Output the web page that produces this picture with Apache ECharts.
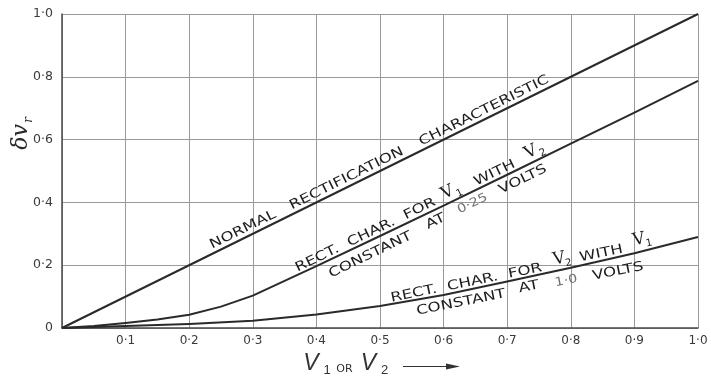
<!DOCTYPE html>
<html>
<head>
<meta charset="utf-8">
<style>
  html, body { margin: 0; padding: 0; background: #ffffff; }
  #chart { width: 711px; height: 377px; }
</style>
<script src="https://cdn.jsdelivr.net/npm/echarts@6/dist/echarts.min.js"></script>
</head>
<body>
<div id="chart"></div>
<script>
// ---- data -------------------------------------------------------------
// Normal rectification characteristic (straight line)
const normalX = [0, 1.0];
const normalY = [0, 1.0];

// Rect. char. for V1 with V2 constant at 0.25 volts
const curveAX = [0, 0.05, 0.1, 0.15, 0.2, 0.25, 0.3, 0.35, 0.4, 0.5, 0.6, 0.7, 0.8, 0.9, 1.0];
const curveAY = [0, 0.006, 0.016, 0.027, 0.042, 0.068, 0.103, 0.150, 0.197, 0.293, 0.390, 0.488, 0.587, 0.686, 0.787];

// Rect. char. for V2 with V1 constant at 1.0 volts
const curveBX = [0, 0.1, 0.2, 0.3, 0.4, 0.5, 0.6, 0.7, 0.8, 0.9, 1.0];
const curveBY = [0, 0.006, 0.013, 0.023, 0.043, 0.070, 0.105, 0.148, 0.192, 0.238, 0.290];

// Tick labels (raised decimal point)
const xTickLabels = ['', '0·1', '0·2', '0·3', '0·4', '0·5', '0·6', '0·7', '0·8', '0·9', '1·0'];
const yTickLabels = ['0', '', '0·2', '', '0·4', '', '0·6', '', '0·8', '', '1·0'];

// Curve annotations: token text, position along the curve (x value), kind, offset from the curve
const normalLabel = [
  { t: 'NORMAL', at: 0.290, k: 'w', off: -8 },
  { t: 'RECTIFICATION', at: 0.453, k: 'w', off: -8 },
  { t: 'CHARACTERISTIC', at: 0.669, k: 'w', off: -8 }
];
const curveALabelTop = [
  { t: 'RECT.  CHAR.  FOR', at: 0.482, k: 'w', off: -7 },
  { t: 'V', at: 0.613, k: 'v', off: -10 },
  { t: '1', at: 0.628, k: 's', off: -4 },
  { t: 'WITH', at: 0.685, k: 'w', off: -7 },
  { t: 'V', at: 0.744, k: 'v', off: -10 },
  { t: '2', at: 0.759, k: 's', off: -4 }
];
const curveALabelBottom = [
  { t: 'CONSTANT', at: 0.476, k: 'w', off: 13 },
  { t: 'AT', at: 0.580, k: 'w', off: 11 },
  { t: '0·25', at: 0.638, k: 'n', off: 11 },
  { t: 'VOLTS', at: 0.717, k: 'w', off: 11 }
];
const curveBLabelTop = [
  { t: 'RECT.  CHAR.  FOR', at: 0.638, k: 'w', off: -7 },
  { t: 'V', at: 0.785, k: 'v', off: -11 },
  { t: '2', at: 0.798, k: 's', off: -5 },
  { t: 'WITH', at: 0.850, k: 'w', off: -7 },
  { t: 'V', at: 0.911, k: 'v', off: -12 },
  { t: '1', at: 0.925, k: 's', off: -6 }
];
const curveBLabelBottom = [
  { t: 'CONSTANT', at: 0.624, k: 'w', off: 11 },
  { t: 'AT', at: 0.731, k: 'w', off: 10 },
  { t: '1·0', at: 0.789, k: 'n', off: 12 },
  { t: 'VOLTS', at: 0.870, k: 'w', off: 14 }
];

// ---- styles -----------------------------------------------------------
const INK = '#1d1d1d';
const LINE = '#2a2a2a';
const TOKEN = {
  w: { fontFamily: 'DejaVu Sans', fontSize: 13, fill: INK, scaleX: 1.28 },
  v: { fontFamily: 'DejaVu Serif', fontSize: 17, fill: INK, scaleX: 1 },
  s: { fontFamily: 'DejaVu Sans', fontSize: 10, fill: INK, scaleX: 1 },
  n: { fontFamily: 'DejaVu Sans', fontSize: 12, fill: '#707070', scaleX: 1.2 }
};

const pairs = (xs, ys) => xs.map((x, i) => [x, ys[i]]);

const chart = echarts.init(document.getElementById('chart'), null, { renderer: 'canvas' });

const lineSeries = (name, xs, ys) => ({
  name,
  type: 'line',
  data: pairs(xs, ys),
  showSymbol: false,
  smooth: false,
  lineStyle: { color: LINE, width: 2, join: 'round' },
  z: 5,
  silent: true
});

chart.setOption({
  animation: false,
  backgroundColor: '#ffffff',
  grid: { left: 62, right: 13, top: 14, bottom: 49, containLabel: false, outerBoundsMode: 'none' },
  xAxis: {
    type: 'value',
    min: 0,
    max: 1,
    interval: 0.1,
    axisLine: { show: true, lineStyle: { color: '#4a4a4a', width: 1.5 } },
    axisTick: { show: false },
    axisLabel: {
      color: '#3a3a3a',
      fontFamily: 'DejaVu Sans',
      fontSize: 12,
      margin: 7,
      showMinLabel: true,
      showMaxLabel: true,
      formatter: v => xTickLabels[Math.round(v * 10)] || ''
    },
    splitLine: { show: true, lineStyle: { color: '#9a9a9a', width: 1 } }
  },
  yAxis: {
    type: 'value',
    min: 0,
    max: 1,
    interval: 0.2,
    axisLine: { show: true, lineStyle: { color: '#4a4a4a', width: 1.5 } },
    axisTick: { show: false },
    axisLabel: {
      color: '#3a3a3a',
      fontFamily: 'DejaVu Sans',
      fontSize: 12.5,
      margin: 9,
      showMinLabel: true,
      showMaxLabel: true,
      formatter: v => yTickLabels[Math.round(v * 10)] || ''
    },
    splitLine: { show: true, lineStyle: { color: '#9a9a9a', width: 1 } }
  },
  series: [
    lineSeries('normal', normalX, normalY),
    lineSeries('curveA', curveAX, curveAY),
    lineSeries('curveB', curveBX, curveBY)
  ]
});

// ---- annotations placed through the chart's own coordinate system ------
function interp(xs, ys, x) {
  for (let i = 1; i < xs.length; i++) {
    if (x <= xs[i]) {
      const t = (x - xs[i - 1]) / (xs[i] - xs[i - 1]);
      return ys[i - 1] + t * (ys[i] - ys[i - 1]);
    }
  }
  return ys[ys.length - 1];
}
const toPx = (x, y) => chart.convertToPixel({ gridIndex: 0 }, [x, y]);

function curveTokens(tokens, xs, ys, angleDeg) {
  const rot = angleDeg * Math.PI / 180;
  return tokens.map(tok => {
    const s = TOKEN[tok.k];
    const p = toPx(tok.at, interp(xs, ys, tok.at));
    return {
      type: 'text',
      x: p[0],
      y: p[1],
      rotation: rot,
      scaleX: s.scaleX,
      z: 100,
      silent: true,
      style: {
        text: tok.t,
        x: 0,
        y: tok.off,
        align: 'center',
        verticalAlign: 'middle',
        fontFamily: s.fontFamily,
        fontSize: s.fontSize,
        fill: s.fill
      }
    };
  });
}

const graphics = [].concat(
  curveTokens(normalLabel, normalX, normalY, 26.4),
  curveTokens(curveALabelTop, curveAX, curveAY, 25.8),
  curveTokens(curveALabelBottom, curveAX, curveAY, 25.8),
  curveTokens(curveBLabelTop, curveBX, curveBY, 11.5),
  curveTokens(curveBLabelBottom, curveBX, curveBY, 11.2)
);

// x-axis title: "V1 OR V2 ->"
const mid = toPx(0.5, 0);
const xt = (text, dx, dy, size, family, italic, fill) => ({
  type: 'text', x: mid[0] + dx, y: mid[1] + dy, z: 100, silent: true,
  style: {
    text, align: 'center', verticalAlign: 'middle',
    fontFamily: family, fontSize: size, fontStyle: italic ? 'italic' : 'normal',
    fill: fill || '#333333'
  }
});
graphics.push(
  xt('V', -69, 36, 23, 'Liberation Sans', true),
  xt('1', -53, 42, 13, 'Liberation Sans', false),
  xt('OR', -35.5, 41, 11, 'DejaVu Sans', false),
  xt('V', -11.5, 36, 23, 'Liberation Sans', true),
  xt('2', 4.5, 42, 13, 'Liberation Sans', false),
  {
    type: 'line', z: 100, silent: true,
    shape: { x1: mid[0] + 23, y1: mid[1] + 38.5, x2: mid[0] + 70, y2: mid[1] + 38.5 },
    style: { stroke: '#333333', lineWidth: 1 }
  },
  {
    type: 'polygon', z: 100, silent: true,
    shape: { points: [[mid[0] + 66, mid[1] + 35.5], [mid[0] + 80, mid[1] + 38.5], [mid[0] + 66, mid[1] + 41.5]] },
    style: { fill: '#333333' }
  }
);

// y-axis title: "δv_r" read bottom to top
const topLeft = toPx(0, 1);
graphics.push({
  type: 'group',
  x: topLeft[0] - 40,
  y: topLeft[1] + 118,
  rotation: Math.PI / 2,
  silent: true,
  children: [
    {
      type: 'text', x: -5, y: -1, z: 100,
      style: { text: 'δv', align: 'center', verticalAlign: 'middle', fontFamily: 'DejaVu Serif', fontStyle: 'italic', fontSize: 22, fill: '#2a2a2a' }
    },
    {
      type: 'text', x: 12, y: 7, z: 100,
      style: { text: 'r', align: 'center', verticalAlign: 'middle', fontFamily: 'DejaVu Serif', fontStyle: 'italic', fontSize: 12, fill: '#2a2a2a' }
    }
  ]
});

chart.setOption({ graphic: graphics });
</script>
</body>
</html>
